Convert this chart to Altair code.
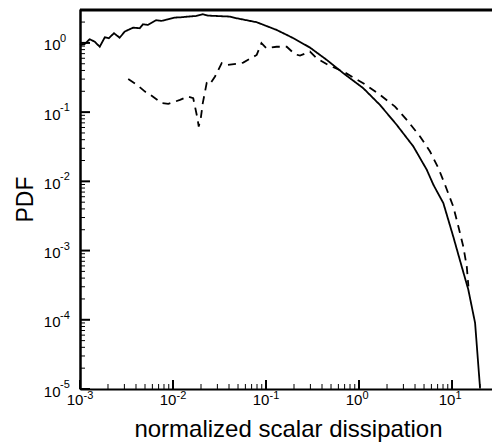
import altair as alt
import pandas as pd

# ---- data ----
solid_x = [0.001, 0.00112, 0.00127, 0.00144, 0.00163, 0.00185, 0.00204, 0.00232, 0.00267,
           0.00303, 0.00372, 0.00439, 0.00476, 0.00538, 0.0066, 0.00748, 0.00847, 0.0104,
           0.0123, 0.0145, 0.0178, 0.0210, 0.0238, 0.0292, 0.041, 0.0484, 0.0794, 0.130,
           0.197, 0.297, 0.449, 0.678, 1.11, 1.68, 2.54, 3.84, 5.35, 6.30, 8.06, 10.3,
           12.7, 14.96, 17.7, 20.0]
solid_y = [0.93, 0.96, 1.13, 1.04, 0.88, 1.21, 1.17, 1.38, 1.19,
           1.46, 1.66, 1.63, 1.86, 1.82, 2.13, 2.08, 2.17, 2.32,
           2.35, 2.40, 2.45, 2.60, 2.48, 2.45, 2.40, 2.27, 1.99, 1.54,
           1.17, 0.856, 0.569, 0.365, 0.222, 0.127, 0.0656, 0.0319, 0.0147, 0.00893, 0.00486, 0.0016,
           5.9e-4, 2.73e-4, 9.0e-5, 1.04e-5]

dash_x = [0.0033, 0.0041, 0.0050, 0.0059, 0.0076, 0.0089, 0.0119, 0.0143, 0.0165, 0.0183,
          0.0189, 0.0199, 0.0209, 0.0230, 0.0246, 0.0283, 0.0334, 0.0378, 0.0484, 0.0569,
          0.0794, 0.0893, 0.101, 0.130, 0.167, 0.204, 0.232, 0.297, 0.35, 0.466, 0.678,
          1.11, 1.68, 2.44, 3.26, 4.53, 5.80, 7.12, 8.41, 10.3, 11.7, 13.2, 14.4, 15.0]
dash_y = [0.30, 0.248, 0.198, 0.172, 0.135, 0.132, 0.150, 0.168, 0.159, 0.082,
          0.062, 0.082, 0.135, 0.262, 0.248, 0.327, 0.509, 0.48, 0.50, 0.52,
          0.67, 0.99, 0.84, 0.88, 0.88, 0.687, 0.655, 0.75, 0.60, 0.48, 0.385,
          0.262, 0.178, 0.120, 0.0774, 0.0444, 0.027, 0.0156, 0.00893, 0.00434, 0.00223, 0.00115, 5.9e-4, 3.04e-4]

x_ticks = [0.001, 0.01, 0.1, 1, 10]
x_exps = ["-3", "-2", "-1", "0", "1"]
y_ticks = [1e-5, 1e-4, 1e-3, 1e-2, 1e-1, 1]
y_exps = ["-5", "-4", "-3", "-2", "-1", "0"]
base_label = "10"
minor_mult = [2, 3, 4, 5, 6, 7, 8, 9]

x_title = "normalized scalar dissipation"
y_title = "PDF"

# ---- layout ----
W, H = 412, 380
X_MAX, Y_MAX = 26.9, 3.09
FONT = "Liberation Sans"

x_minor = [d * m for d in x_ticks for m in minor_mult if d * m < X_MAX]
y_minor = [d * m for d in y_ticks for m in minor_mult if d * m < Y_MAX]

xs = alt.Scale(type="log", domain=[0.001, X_MAX], nice=False)
ys = alt.Scale(type="log", domain=[1e-5, Y_MAX], nice=False)

df = pd.concat([
    pd.DataFrame({"x": solid_x, "y": solid_y, "s": "solid"}),
    pd.DataFrame({"x": dash_x, "y": dash_y, "s": "dashed"}),
])

x_axis = alt.Axis(values=x_ticks, labelExpr=f"'{base_label}'", ticks=False, labelFlush=False,
                  grid=False, domainColor="black", domainWidth=2, labelPadding=3,
                  labelOffset=-5.5, labelBaseline="top",
                  labelFontSize=15, labelFont=FONT, labelColor="black",
                  title=x_title, titleFont=FONT, titleFontSize=24, titleFontWeight="normal",
                  titleColor="black", titleX=W / 2 + 2, titleY=47, titleBaseline="alphabetic",
                  titleAnchor="middle", titleAlign="center")
y_axis = alt.Axis(values=y_ticks, labelExpr=f"'{base_label}'", ticks=False, labelFlush=False,
                  grid=False, domainColor="black", domainWidth=2.5, labelPadding=20,
                  labelOffset=2, labelBaseline="middle",
                  labelFontSize=15, labelFont=FONT, labelColor="black",
                  title=y_title, titleFont=FONT, titleFontSize=23, titleFontWeight="normal",
                  titleColor="black", titleX=-55, titleY=H / 2, titleBaseline="middle",
                  titleAngle=-90, titleAlign="center")

X = alt.X("x:Q", scale=xs, axis=x_axis, title=x_title)
Y = alt.Y("y:Q", scale=ys, axis=y_axis, title=y_title)

lines = alt.Chart(df).mark_line(color="black", strokeWidth=1.8).encode(
    x=X, y=Y,
    strokeDash=alt.StrokeDash("s:N", scale=alt.Scale(domain=["solid", "dashed"],
                                                      range=[[1, 0], [8, 6]]), legend=None),
    detail="s:N",
)

xmaj = alt.Chart(pd.DataFrame({"x": x_ticks})).mark_rule(color="black", strokeWidth=2).encode(
    x=X, y=alt.value(H), y2=alt.value(H - 9))
xmin = alt.Chart(pd.DataFrame({"x": x_minor})).mark_rule(color="black", strokeWidth=1).encode(
    x=X, y=alt.value(H), y2=alt.value(H - 5))
ymaj = alt.Chart(pd.DataFrame({"y": y_ticks})).mark_rule(color="black", strokeWidth=2).encode(
    y=Y, x=alt.value(0), x2=alt.value(10))
ymin = alt.Chart(pd.DataFrame({"y": y_minor})).mark_rule(color="black", strokeWidth=1).encode(
    y=Y, x=alt.value(0), x2=alt.value(5))
top = alt.Chart(pd.DataFrame({"v": [0]})).mark_rule(color="black", strokeWidth=3).encode(
    x=alt.value(0), x2=alt.value(W), y=alt.value(1))

x_exp = alt.Chart(pd.DataFrame({"x": x_ticks, "t": x_exps})).mark_text(
    font=FONT, fontSize=11, align="left", baseline="top", dx=3.5, color="black", clip=False
).encode(x=X, y=alt.value(H + 1), text="t:N")
y_exp = alt.Chart(pd.DataFrame({"y": y_ticks, "t": y_exps})).mark_text(
    font=FONT, fontSize=11, align="left", baseline="middle", dy=-4, color="black", clip=False
).encode(y=Y, x=alt.value(-20), text="t:N")

chart = alt.layer(lines, xmaj, xmin, ymaj, ymin, top, x_exp, y_exp).properties(
    width=W, height=H,
    autosize=alt.AutoSizeParams(type="none"),
    padding={"left": 80, "top": 9, "right": 0, "bottom": 54},
).configure_view(stroke=None).configure(background="white")

chart.save("out.html", embed_options={"renderer": "svg", "actions": False})
